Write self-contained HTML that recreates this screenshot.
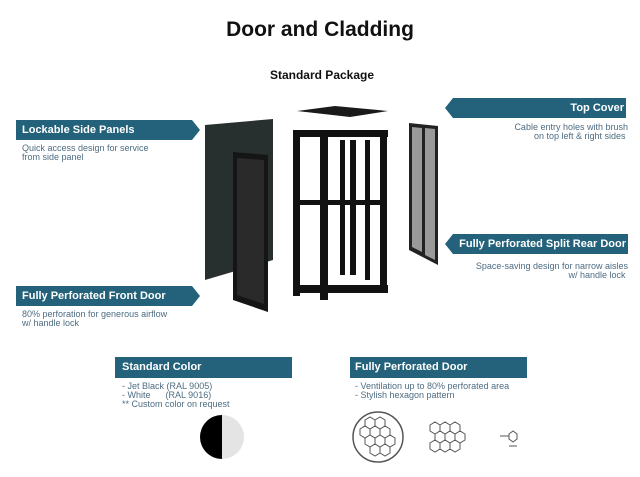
<!DOCTYPE html>
<html><head><style>
body{margin:0;width:640px;height:477px;background:#fff;font-family:"Liberation Sans",sans-serif;position:relative;overflow:hidden}
.a{position:absolute}
.t{font-weight:bold;color:#fff;font-size:11px;line-height:20px}
.s{color:#4d6c82;font-size:9px;line-height:9px}
</style></head><body>
<div class="a" style="left:0;width:640px;top:18px;text-align:center;font-size:21px;font-weight:bold;color:#111">Door and Cladding</div>
<div class="a" style="left:0;width:644px;top:68px;text-align:center;font-size:12px;font-weight:bold;color:#111">Standard Package</div>
<svg class="a" style="left:0;top:0" width="640" height="477">
<g fill="#23627a">
<polygon points="16,120 192,120 200,130 192,140 16,140"/>
<polygon points="16,286 192,286 200,296 192,306 16,306"/>
<polygon points="453,98 626,98 626,118 453,118 445,108"/>
<polygon points="453,234 628,234 628,254 453,254 445,244"/>
<rect x="115" y="357" width="177" height="21"/>
<rect x="350" y="357" width="177" height="21"/>
</g>
<polygon points="205,125 273,119 273,260 205,280" fill="#28302f"/>
<polygon points="233,152 268,155 268,312 233,300" fill="#151515"/>
<polygon points="237,158 264,160 264,304 237,295" fill="#2a2a2a"/>
<polygon points="297,111 335,106 388,111 350,117" fill="#1a1a1a"/>
<g fill="#111">
<rect x="293" y="131" width="7" height="165"/>
<rect x="320" y="136" width="8" height="164"/>
<rect x="380" y="131" width="7" height="160"/>
<rect x="350" y="140" width="6" height="135"/>
<rect x="293" y="130" width="95" height="7"/>
<rect x="300" y="200" width="80" height="5"/>
<rect x="293" y="285" width="95" height="8"/>
<rect x="340" y="140" width="5" height="135"/>
<rect x="365" y="140" width="5" height="140"/>
</g>
<polygon points="409,123 438,126 438,265 409,250" fill="#222"/>
<polygon points="412,127 422,128 422,252 412,247" fill="#9a9a9a"/>
<polygon points="425,128 435,129 435,260 425,255" fill="#9a9a9a"/>
<path d="M222,415 A22,22 0 0 0 222,459 Z" fill="#000"/>
<path d="M222,415 A22,22 0 0 1 222,459 Z" fill="#e4e4e4"/>
<circle cx="378" cy="437" r="25" fill="none" stroke="#555" stroke-width="1.5"/>
<g fill="none" stroke="#555" stroke-width="1">
<path d="M365,420 l5,-3 5,3 0,6 -5,3 -5,-3z M375,420 l5,-3 5,3 0,6 -5,3 -5,-3z M360,429 l5,-3 5,3 0,6 -5,3 -5,-3z M370,429 l5,-3 5,3 0,6 -5,3 -5,-3z M380,429 l5,-3 5,3 0,6 -5,3 -5,-3z M365,438 l5,-3 5,3 0,6 -5,3 -5,-3z M375,438 l5,-3 5,3 0,6 -5,3 -5,-3z M385,438 l5,-3 5,3 0,6 -5,3 -5,-3z M370,447 l5,-3 5,3 0,6 -5,3 -5,-3z M380,447 l5,-3 5,3 0,6 -5,3 -5,-3z"/>
<path d="M430,425 l5,-3 5,3 0,6 -5,3 -5,-3z M440,425 l5,-3 5,3 0,6 -5,3 -5,-3z M450,425 l5,-3 5,3 0,6 -5,3 -5,-3z M435,434 l5,-3 5,3 0,6 -5,3 -5,-3z M445,434 l5,-3 5,3 0,6 -5,3 -5,-3z M455,434 l5,-3 5,3 0,6 -5,3 -5,-3z M430,443 l5,-3 5,3 0,6 -5,3 -5,-3z M440,443 l5,-3 5,3 0,6 -5,3 -5,-3z M450,443 l5,-3 5,3 0,6 -5,3 -5,-3z"/>
<path d="M509,434 l4,-3 4,3 0,5 -4,3 -4,-3z M500,436 h9 M509,446 h8"/>
</g>
</svg>
<div class="a t" style="left:22px;top:120px">Lockable Side Panels</div>
<div class="a s" style="left:22px;top:144px">Quick access design for service<br>from side panel</div>
<div class="a t" style="left:22px;top:286px">Fully Perforated Front Door</div>
<div class="a s" style="left:22px;top:310px">80% perforation for generous airflow<br>w/ handle lock</div>
<div class="a t" style="right:16px;top:98px">Top Cover</div>
<div class="a s" style="right:12px;top:123px;text-align:right">Cable entry holes with brush<br>on top left &amp; right sides&nbsp;</div>
<div class="a t" style="right:14px;top:234px">Fully Perforated Split Rear Door</div>
<div class="a s" style="right:12px;top:262px;text-align:right">Space-saving design for narrow aisles<br>w/ handle lock&nbsp;</div>
<div class="a t" style="left:122px;top:357px">Standard Color</div>
<div class="a s" style="left:122px;top:382px">- Jet Black (RAL 9005)<br>- White &nbsp;&nbsp;&nbsp;&nbsp;&nbsp;(RAL 9016)<br>** Custom color on request</div>
<div class="a t" style="left:355px;top:357px">Fully Perforated Door</div>
<div class="a s" style="left:355px;top:382px">- Ventilation up to 80% perforated area<br>- Stylish hexagon pattern</div>
</body></html>
